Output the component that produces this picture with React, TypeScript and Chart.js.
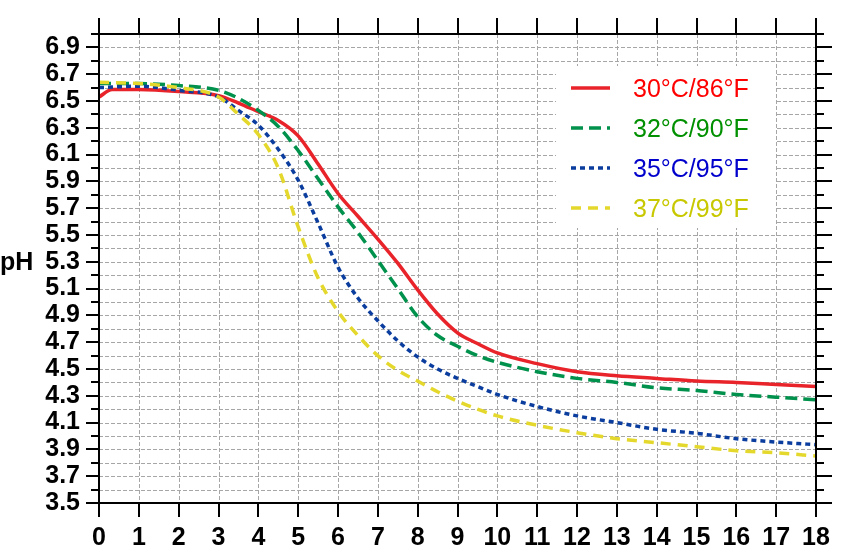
import React, { useEffect, useRef } from "react";
import { Chart, registerables } from "chart.js";

Chart.register(...registerables);

const hoursRed = [0, 0.33, 1, 2, 3, 3.5, 4, 4.5, 5, 5.5, 6, 6.5, 7, 7.5, 8, 8.5, 9, 9.5, 10, 11, 12, 13, 14, 15, 16, 17, 18];
const ph30 = [6.53, 6.585, 6.585, 6.57, 6.54, 6.485, 6.42, 6.355, 6.24, 6.03, 5.81, 5.64, 5.47, 5.29, 5.09, 4.91, 4.77, 4.69, 4.62, 4.54, 4.48, 4.45, 4.43, 4.41, 4.4, 4.385, 4.37];

const hours = [0, 1, 2, 3, 3.5, 4, 4.5, 5, 5.5, 6, 6.5, 7, 7.5, 8, 8.5, 9, 9.5, 10, 11, 12, 13, 14, 15, 16, 17, 18];
const ph32 = [6.63, 6.63, 6.615, 6.58, 6.52, 6.43, 6.31, 6.13, 5.92, 5.71, 5.52, 5.31, 5.1, 4.89, 4.75, 4.67, 4.6, 4.55, 4.48, 4.43, 4.4, 4.36, 4.34, 4.31, 4.29, 4.27];
const ph35 = [6.6, 6.61, 6.58, 6.53, 6.43, 6.32, 6.14, 5.91, 5.59, 5.26, 5.03, 4.86, 4.71, 4.59, 4.5, 4.43, 4.37, 4.31, 4.22, 4.15, 4.1, 4.05, 4.02, 3.98, 3.955, 3.935];
const ph37 = [6.64, 6.63, 6.6, 6.53, 6.4, 6.25, 6.0, 5.56, 5.18, 4.93, 4.75, 4.6, 4.49, 4.41, 4.33, 4.26, 4.2, 4.15, 4.08, 4.025, 3.98, 3.95, 3.92, 3.89, 3.875, 3.85];

const seriesLabels = ["30°C/86°F", "32°C/90°F", "35°C/95°F", "37°C/99°F"];
const lineColors = ["#e8232a", "#00914c", "#0a3d9e", "#e4d82c"];
const textColors = ["#ff0000", "#009000", "#0000cc", "#c8c800"];
const lineDashes: number[][] = [[], [12, 6], [5, 4], [10, 7]];

const xMin = 0;
const xMax = 18;
const yMin = 3.5;
const yMax = 7.0;

const FONT = "'Liberation Sans', Arial, sans-serif";

const decorPlugin = {
  id: "decor",
  beforeDatasetsDraw(chart: any) {
    const { ctx, chartArea } = chart;
    const xs = chart.scales.x;
    const ys = chart.scales.y;
    const { left, right, top, bottom } = chartArea;
    ctx.save();
    ctx.strokeStyle = "#a6a6a6";
    ctx.lineWidth = 1;
    ctx.setLineDash([4, 2]);
    ctx.beginPath();
    for (let v = xMin + 1; v < xMax; v += 1) {
      const px = Math.round(xs.getPixelForValue(v)) + 0.5;
      ctx.moveTo(px, top);
      ctx.lineTo(px, bottom);
    }
    for (let i = 1; i < Math.round((yMax - yMin) * 10); i++) {
      const py = Math.round(ys.getPixelForValue(yMin + i / 10)) + 0.5;
      ctx.moveTo(left, py);
      ctx.lineTo(right, py);
    }
    ctx.stroke();
    ctx.restore();
  },
  afterDraw(chart: any) {
    const { ctx, chartArea } = chart;
    const xs = chart.scales.x;
    const ys = chart.scales.y;
    const { left, right, top, bottom } = chartArea;
    ctx.save();
    ctx.strokeStyle = "#000";
    ctx.lineWidth = 2;
    ctx.setLineDash([]);
    // frame
    ctx.beginPath();
    ctx.moveTo(left, top - 16);
    ctx.lineTo(left, bottom + 14);
    ctx.moveTo(right, top - 16);
    ctx.lineTo(right, bottom + 14);
    ctx.moveTo(left, top);
    ctx.lineTo(right, top);
    ctx.moveTo(left, bottom);
    ctx.lineTo(right, bottom);
    ctx.stroke();
    // x ticks top & bottom
    ctx.beginPath();
    for (let v = xMin; v <= xMax; v += 1) {
      const px = Math.round(xs.getPixelForValue(v));
      ctx.moveTo(px, top);
      ctx.lineTo(px, top - 16);
      ctx.moveTo(px, bottom);
      ctx.lineTo(px, bottom + 14);
    }
    // y ticks left & right
    for (let i = 0; i <= Math.round((yMax - yMin) * 10); i++) {
      const v = yMin + i / 10;
      const py = Math.round(ys.getPixelForValue(v));
      const major = i % 2 === 0;
      ctx.moveTo(left, py);
      ctx.lineTo(left - (major ? 13 : 8), py);
      ctx.moveTo(right, py);
      ctx.lineTo(right + (major ? 16 : 8), py);
    }
    ctx.stroke();

    // pH title
    ctx.fillStyle = "#000";
    ctx.font = `bold 25px ${FONT}`;
    ctx.textAlign = "left";
    ctx.textBaseline = "alphabetic";
    ctx.fillText("pH", 0, 270);

    // legend
    const L = right - 260;
    const T = top + 32;
    ctx.fillStyle = "#fff";
    ctx.fillRect(L, T, 220, 162);
    ctx.font = `25px ${FONT}`;
    seriesLabels.forEach((lab, i) => {
      const y = T + 22 + i * 40;
      ctx.beginPath();
      ctx.strokeStyle = lineColors[i];
      ctx.lineWidth = 3.5;
      ctx.setLineDash(lineDashes[i]);
      ctx.moveTo(L + 15, y);
      ctx.lineTo(L + 54, y);
      ctx.stroke();
      ctx.setLineDash([]);
      ctx.fillStyle = textColors[i];
      ctx.fillText(lab, L + 77, y + 9);
    });
    ctx.restore();
  },
};

export default function App() {
  const ref = useRef<HTMLCanvasElement | null>(null);
  useEffect(() => {
    if (!ref.current) return;
    const mk = (xsArr: number[], ys: number[], i: number) => ({
      label: seriesLabels[i],
      data: xsArr.map((x, k) => ({ x, y: ys[k] })),
      borderColor: lineColors[i],
      backgroundColor: lineColors[i],
      borderWidth: 3.5,
      borderDash: lineDashes[i],
      pointRadius: 0,
      cubicInterpolationMode: "monotone" as const,
      fill: false,
    });
    const chart = new Chart(ref.current, {
      type: "line",
      data: {
        datasets: [
          mk(hours, ph37, 3),
          mk(hours, ph35, 2),
          mk(hours, ph32, 1),
          mk(hoursRed, ph30, 0),
        ],
      },
      plugins: [decorPlugin],
      options: {
        responsive: false,
        animation: false,
        layout: { padding: 0 },
        plugins: { legend: { display: false }, tooltip: { enabled: false } },
        scales: {
          x: {
            type: "linear",
            position: "bottom",
            min: xMin,
            max: xMax,
            ticks: {
              stepSize: 1,
              autoSkip: false,
              maxRotation: 0,
              padding: 20,
              color: "#000",
              font: { family: FONT, size: 25, weight: "bold" },
            },
            grid: { display: false, drawTicks: false },
            border: { display: false },
            afterFit: (s: any) => {
              s.height = 54;
            },
          },
          x2: {
            type: "linear",
            position: "top",
            min: xMin,
            max: xMax,
            ticks: { display: false, stepSize: 1 },
            grid: { display: false },
            border: { display: false },
            afterFit: (s: any) => {
              s.height = 24;
            },
          },
          y: {
            type: "linear",
            position: "left",
            min: yMin,
            max: yMax,
            ticks: {
              stepSize: 0.1,
              autoSkip: false,
              padding: 19,
              color: "#000",
              font: { family: FONT, size: 25, weight: "bold" },
              callback: (v: any) => {
                const n = Math.round(Number(v) * 10);
                return n % 2 === 1 ? (n / 10).toFixed(1) : "";
              },
            },
            grid: { display: false, drawTicks: false },
            border: { display: false },
            afterFit: (s: any) => {
              s.width = 99;
            },
          },
          y2: {
            type: "linear",
            position: "right",
            min: yMin,
            max: yMax,
            ticks: { display: false },
            grid: { display: false },
            border: { display: false },
            afterFit: (s: any) => {
              s.width = 45;
            },
          },
        },
      },
    });
    return () => chart.destroy();
  }, []);
  return (
    <div style={{ position: "fixed", left: 0, top: 0, width: 861, height: 557, background: "#fff" }}>
      <canvas ref={ref} width={861} height={557} style={{ display: "block" }} />
    </div>
  );
}
